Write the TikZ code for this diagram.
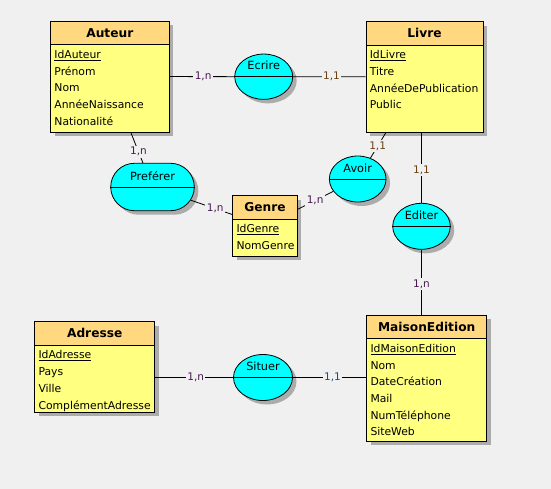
\documentclass[tikz,border=0pt]{standalone}
\usepackage{fontspec}
\setmainfont{DejaVu Sans}
\usetikzlibrary{positioning,shapes.geometric,shapes.misc,shadows}

\definecolor{fond}{RGB}{240,240,240}
\definecolor{corps}{RGB}{255,255,128}
\definecolor{tete}{RGB}{255,216,128}
\definecolor{assoc}{RGB}{0,255,255}
\definecolor{ombre}{RGB}{172,172,172}
\definecolor{cardn}{RGB}{70,25,80}
\definecolor{cardun}{RGB}{105,65,20}
\definecolor{cardbleu}{RGB}{30,75,130}

\begin{document}
\begin{tikzpicture}[x=1pt, y=-1pt,
    ombrage/.style={drop shadow={shadow xshift=4pt, shadow yshift=-4pt, fill=ombre, opacity=1}},
    entite/.style={draw=black, fill=corps, line width=0.8pt, ombrage, inner sep=0pt},
    entete/.style={draw=black, fill=tete, line width=0.8pt, minimum height=23.5pt, inner sep=0pt, anchor=north, font=\fontsize{12.2}{14}\selectfont\bfseries},
    attributs/.style={align=left, inner sep=2pt, font=\fontsize{10.8}{16.7}\selectfont},
    relation/.style={ellipse, draw=black, fill=assoc, line width=0.8pt, ombrage, inner sep=0pt},
    titrerel/.style={font=\fontsize{11.3}{13}\selectfont},
    card/.style={fill=fond, inner sep=1.5pt, font=\fontsize{10.5}{12}\selectfont},
    lien/.style={line width=0.8pt}
]

% Fond gris
\path[use as bounding box, fill=fond] (0,0) rectangle (551,489);

% Entité Auteur
\node[entite, minimum width=118.3, minimum height=111] (auteur) at (109.8,76.5) {};
\node[entete, minimum width=118.3] (auteur-t) at (auteur.north) {Auteur};
\node[attributs, below right=3pt and 2pt of auteur-t.south west] (auteur-a)
    {\underline{IdAuteur}\\Prénom\\Nom\\AnnéeNaissance\\Nationalité};

% Entité Livre
\node[entite, minimum width=117, minimum height=110.5] (livre) at (424.5,76.8) {};
\node[entete, minimum width=117] (livre-t) at (livre.north) {Livre};
\node[attributs, below right=3pt and 2pt of livre-t.south west] (livre-a)
    {\underline{IdLivre}\\Titre\\AnnéeDePublication\\Public};

% Entité Genre
\node[entite, minimum width=64.6, minimum height=60.3] (genre) at (265,225.8) {};
\node[entete, minimum width=64.6] (genre-t) at (genre.north) {Genre};
\node[attributs, below right=3pt and 2pt of genre-t.south west] (genre-a)
    {\underline{IdGenre}\\NomGenre};

% Entité Adresse
\node[entite, minimum width=120, minimum height=90.3] (adresse) at (94.7,366.8) {};
\node[entete, minimum width=120] (adresse-t) at (adresse.north) {Adresse};
\node[attributs, below right=3pt and 2pt of adresse-t.south west] (adresse-a)
    {\underline{IdAdresse}\\Pays\\Ville\\ComplémentAdresse};

% Entité MaisonEdition
\node[entite, minimum width=120, minimum height=126] (maison) at (426.7,378) {};
\node[entete, minimum width=120] (maison-t) at (maison.north) {MaisonEdition};
\node[attributs, below right=3pt and 2pt of maison-t.south west] (maison-a)
    {\underline{IdMaisonEdition}\\Nom\\DateCréation\\Mail\\NumTéléphone\\SiteWeb};

% Associations : nom, texte, centre, largeur, hauteur
\foreach \nom/\texte/\x/\y/\w/\h in {
    ecrire/Ecrire/263.7/76.7/58/45.3,
    avoir/Avoir/357.7/179/56.7/46,
    editer/Editer/421.5/226.3/57.6/46,
    situer/Situer/263/377.5/59/46
} {
    \node[relation, minimum width=\w, minimum height=\h] (\nom) at (\x,\y) {};
    \draw[lien] (\nom.west) -- (\nom.east);
    \node[titrerel] (\nom-n) at ([yshift=11pt]\nom.center) {\texte};
}
\node[relation, rounded rectangle, minimum width=83.6, minimum height=47.4] (preferer) at (152.5,187) {};
\draw[lien] (preferer.west) -- (preferer.east);
\node[titrerel] (preferer-n) at ([yshift=10.5pt]preferer.center) {Preférer};

% Liens et cardinalités
\draw[lien] (auteur) -- node[card, text=cardn, pos=.52] {1,n} (ecrire);
\draw[lien] (ecrire) -- node[card, text=cardun, pos=.53] {1,1} (livre);
\draw[lien] ([xshift=21pt]auteur.south) -- node[card, text=cardn, pos=.63] {1,n} (preferer);
\draw[lien] (preferer) -- node[card, text=cardn, pos=.59] {1,n} (genre);
\draw[lien] (genre) -- node[card, text=cardn, pos=.49] {1,n} (avoir);
\draw[lien] (avoir) -- node[card, text=cardun, pos=.46] {1,1} ([xshift=-38.5pt]livre.south);
\draw[lien] (livre.south -| editer) -- node[card, text=cardun, pos=.53] {1,1} (editer);
\draw[lien] (editer) -- node[card, text=cardn, pos=.53] {1,n} (editer |- maison.north);
\draw[lien] (adresse.east |- situer) -- node[card, text=cardn, pos=.52] {1,n} (situer);
\draw[lien] (situer) -- node[card, text=cardbleu, pos=.54] {1,1} (maison.west |- situer);
\end{tikzpicture}
\end{document}
